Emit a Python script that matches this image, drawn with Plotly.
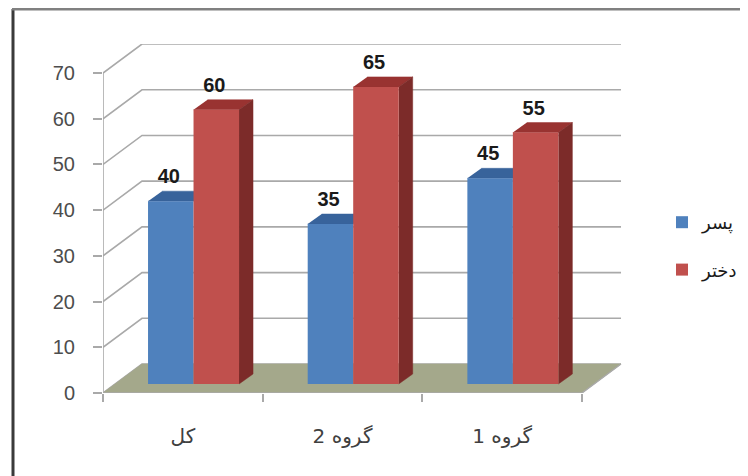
import plotly.graph_objects as go

categories = ["کل", "گروه 2", "گروه 1"]
boys_name = "پسر"
girls_name = "دختر"
boys = [40, 35, 45]
girls = [60, 65, 55]
y_ticks = [0, 10, 20, 30, 40, 50, 60, 70]

PAGE = 8                              # default body margin of the written page
W, H = 748 - PAGE, 476 - PAGE
L, R, T, B = 103 - PAGE, 622 - PAGE, 44 - PAGE, 393 - PAGE
X_MAX = (R - L) / 159.67
Y_MAX = (B - T) / 4.571
DX, DY = 39 / 159.67, 29 / 4.571      # depth of the box
BX, BY = 14 / 159.67, 10 / 4.571      # depth of a bar
BASE = 9 / 4.571                      # bars stand inside the floor
BW = 45.5 / 159.67
CENTER = 0.567

GRID = "#a9a9a9"
BLUE, BLUE_TOP = "#4f81bd", "#38639b"
RED, RED_TOP, RED_SIDE = "#c0504d", "#993331", "#7c2b29"
FLOOR = "#a4a88b"


def px_x(p):
    return (p - PAGE - L) / (R - L)


def px_y(p):
    return (B - (p - PAGE)) / (B - T)


fig = go.Figure()


def poly(xs, ys, color):
    fig.add_trace(go.Scatter(x=xs, y=ys, fill="toself", fillcolor=color, mode="lines",
                             line=dict(color=color, width=0.5), showlegend=False,
                             hoverinfo="skip"))


def line(xs, ys, width=1.6):
    fig.add_trace(go.Scatter(x=xs, y=ys, mode="lines", line=dict(color=GRID, width=width),
                             showlegend=False, hoverinfo="skip", cliponaxis=False))


# box: back-wall gridlines and side-wall diagonals
for v in y_ticks:
    line([0, DX, 3 + DX], [v, v + DY, v + DY])
line([0, 0], [0, 70])
# floor
poly([0, 3, 3 + DX, DX, 0], [0, 0, DY, DY, 0], FLOOR)
line([0, 3, 3 + DX], [0, 0, DY], 1.4)

# bar tops and sides (fronts sit on the overlay axes above these)
for i in range(3):
    c = i + CENTER
    tb = BASE + boys[i]
    poly([c - BW, c, c + BX, c - BW + BX], [tb, tb, tb + BY, tb + BY], BLUE_TOP)
    tg = BASE + girls[i]
    poly([c, c + BW, c + BW + BX, c + BX], [tg, tg, tg + BY, tg + BY], RED_TOP)
    poly([c + BW, c + BW + BX, c + BW + BX, c + BW],
         [BASE, BASE + BY, tg + BY, tg], RED_SIDE)

xs_boys = [i + CENTER - BW / 2 for i in range(3)]
xs_girls = [i + CENTER + BW / 2 for i in range(3)]

fig.add_trace(go.Bar(x=xs_boys, y=boys, base=BASE, width=BW, name=boys_name,
                     marker=dict(color=BLUE, line=dict(width=0)),
                     xaxis="x2", yaxis="y2", legendgroup="a"))
fig.add_trace(go.Bar(x=xs_girls, y=girls, base=BASE, width=BW, name=girls_name,
                     marker=dict(color=RED, line=dict(width=0)),
                     xaxis="x2", yaxis="y2", legendgroup="b"))

# value labels
fig.add_trace(go.Scatter(
    x=[x - 0.012 for x in xs_boys + xs_girls],
    y=[BASE + v + 5.0 for v in boys + girls],
    text=[str(v) for v in boys + girls],
    mode="text", textposition="middle center",
    textfont=dict(family="Liberation Sans", size=20, color="#1a1a1a", weight="bold"),
    showlegend=False, hoverinfo="skip", xaxis="x2", yaxis="y2", cliponaxis=False))

fig.update_layout(
    width=W, height=H,
    margin=dict(l=L, r=W - R, t=T, b=H - B, pad=0, autoexpand=False),
    paper_bgcolor="white", plot_bgcolor="white",
    barmode="overlay",
    xaxis=dict(range=[0, X_MAX], tickvals=[0.5, 1.5, 2.5], ticktext=categories,
               showgrid=False, zeroline=False, showline=False, ticks="",
               ticklabelstandoff=29,
               tickfont=dict(family="DejaVu Sans", size=20, color="#404040"),
               minor=dict(tickvals=[0, 1, 2, 3], ticks="outside", ticklen=8,
                          tickwidth=1.6, tickcolor=GRID, showgrid=False)),
    yaxis=dict(range=[0, Y_MAX], tickvals=y_ticks, showgrid=False, zeroline=False,
               showline=False, ticks="outside", ticklen=9, tickwidth=1.6, tickcolor=GRID,
               ticklabelstandoff=14,
               tickfont=dict(family="Liberation Sans", size=20, color="#4d4d4d")),
    xaxis2=dict(range=[0, X_MAX], overlaying="x", visible=False),
    yaxis2=dict(range=[0, Y_MAX], overlaying="y", visible=False),
    legend=dict(x=px_x(662), y=px_y(204), xanchor="left", yanchor="top",
                traceorder="grouped", tracegroupgap=21,
                font=dict(family="DejaVu Sans", size=18, color="#1a1a1a"),
                bgcolor="rgba(0,0,0,0)"),
    shapes=[
        dict(type="line", xref="paper", yref="paper",
             x0=px_x(13), x1=px_x(13), y0=px_y(476), y1=px_y(9),
             line=dict(color="#3a3a3a", width=3), layer="below"),
        dict(type="line", xref="paper", yref="paper",
             x0=px_x(12), x1=px_x(748), y0=px_y(9), y1=px_y(9),
             line=dict(color="#808080", width=3), layer="below"),
    ],
)

fig.write_html("out.html")
